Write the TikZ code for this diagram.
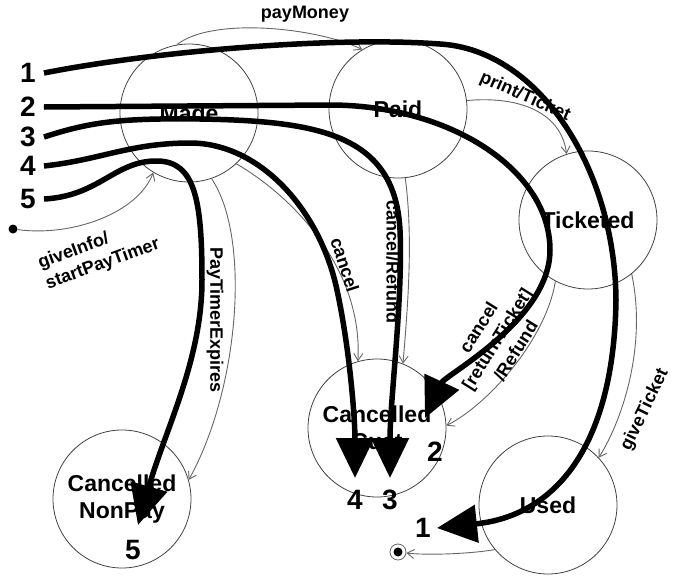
\documentclass[tikz,border=0pt]{standalone}
\usepackage{fontspec}
\setmainfont{Liberation Sans}
\usetikzlibrary{arrows.meta}

\begin{document}
\begin{tikzpicture}[
  x=1pt, y=-1pt,
  state/.style={circle, draw=black!75, line width=0.8pt, minimum size=138pt, inner sep=0pt,
    align=center, font=\fontsize{23}{27}\selectfont\bfseries},
  trans/.style={draw=black!60, line width=0.9pt, -{Straight Barb[length=7pt,width=9pt]}},
  tlabel/.style={inner sep=0pt, align=center, font=\fontsize{18}{22}\selectfont\bfseries},
  run/.style={line width=5.5pt, -{Triangle[length=40pt,width=37pt]}},
  num/.style={inner ysep=0pt, inner xsep=8pt, font=\fontsize{28}{28}\selectfont\bfseries}
]
\useasboundingbox (0,0) rectangle (673,576);

% states
\node[state] (made) at (189,113) {Made};
\node[state] (paid) at (398,109) {Paid};
\node[state] (ticketed) at (588,220) {Ticketed};
\node[state] (cust) at (377,428) {Cancelled\\Cust};
\node[state] (nonpay) at (122,499) {Cancelled\\NonPay};
\node[state] (used) at (548,505) {Used};
\node[circle, fill, inner sep=0pt, minimum size=9pt] (init) at (13,229) {};
\node[circle, draw=black!60, line width=0.8pt, inner sep=0pt, minimum size=16pt] (final) at (398,552) {};
\node[circle, fill, inner sep=0pt, minimum size=9pt] (finaldot) at (final) {};

% transitions
\draw[trans] (init) .. controls +(60,8) and +(-15,40) .. (made.239);
\draw[trans] (made.100) .. controls +(35,-28) and +(-45,-22) .. (paid.121);
\draw[trans] (paid.7) .. controls +(55,-5) and +(-5,-40) .. (ticketed.108);
\draw[trans] (made.-47) .. controls +(60,35) and +(5,-90) .. (cust.106);
\draw[trans] (paid.-84) .. controls +(8,60) and +(5,-60) .. (cust.68);
\draw[trans] (made.-71) .. controls +(40,60) and +(50,-90) .. (nonpay.16);
\draw[trans] (ticketed.-118) .. controls +(-10,60) and +(40,-20) .. (cust.2);
\draw[trans] (ticketed.-51) .. controls +(15,70) and +(25,-40) .. (used.43);
\draw[trans] (used.220) .. controls +(-30,5) and +(25,3) .. (final);

\node[tlabel, align=left, rotate=20] (linfo) at (99,254) {giveInfo/\\startPayTimer};
\node[tlabel] (lpay) at (305,14) {payMoney};
\node[tlabel, rotate=-24] (lprint) at (525,97) {print/Ticket};
\node[tlabel, rotate=-72] (lcancel) at (345,265) {cancel};
\node[tlabel, rotate=-90] (lrefund) at (393,262) {cancel/Refund};
\node[tlabel, rotate=-90] (ltimer) at (215,320) {PayTimerExpires};
\node[tlabel, rotate=58] (lreturn) at (497,339) {cancel\\{}[returnTicket]\\/Refund};
\node[tlabel, rotate=64] (lgive) at (645,410) {giveTicket};

% scenario runs
\node[num] (n1) at (28,73) {1};
\node[num] (n2) at (28,107) {2};
\node[num] (n3) at (28,137) {3};
\node[num] (n4) at (28,166) {4};
\node[num] (n5) at (28,199) {5};
\node[num] (e1) at (423,528) {1};
\node[num] (e2) at (435,452) {2};
\node[num] (e3) at (390,500) {3};
\node[num] (e4) at (355,500) {4};
\node[num] (e5) at (133,550) {5};
\coordinate (t1) at (437,528);
\coordinate (t2) at (425,418);
\coordinate (t3) at (390,478);
\coordinate (t4) at (355,478);
\coordinate (t5) at (138,525);

\draw[run] (n1.east) .. controls (150,52) and (330,36) .. (440,44)
  .. controls (540,50) and (615,170) .. (616,300)
  .. controls (614,440) and (560,515) .. (t1);
\draw[run] (n2.east) -- (330,105) .. controls (450,105) and (550,170) .. (550,250)
  .. controls (550,320) and (445,375) .. (t2);
\draw[run] (n3.east) .. controls (90,122) and (120,118) .. (200,119)
  .. controls (320,121) and (395,135) .. (400,230)
  .. controls (403,300) and (390,400) .. (t3);
\draw[run] (n4.east) .. controls (100,160) and (130,143) .. (190,143)
  .. controls (260,143) and (320,210) .. (337,290)
  .. controls (350,350) and (355,420) .. (t4);
\draw[run] (n5.east) .. controls (100,196) and (115,160) .. (158,161)
  .. controls (195,162) and (202,200) .. (202,280)
  .. controls (202,360) and (165,430) .. (t5);
\end{tikzpicture}
\end{document}
